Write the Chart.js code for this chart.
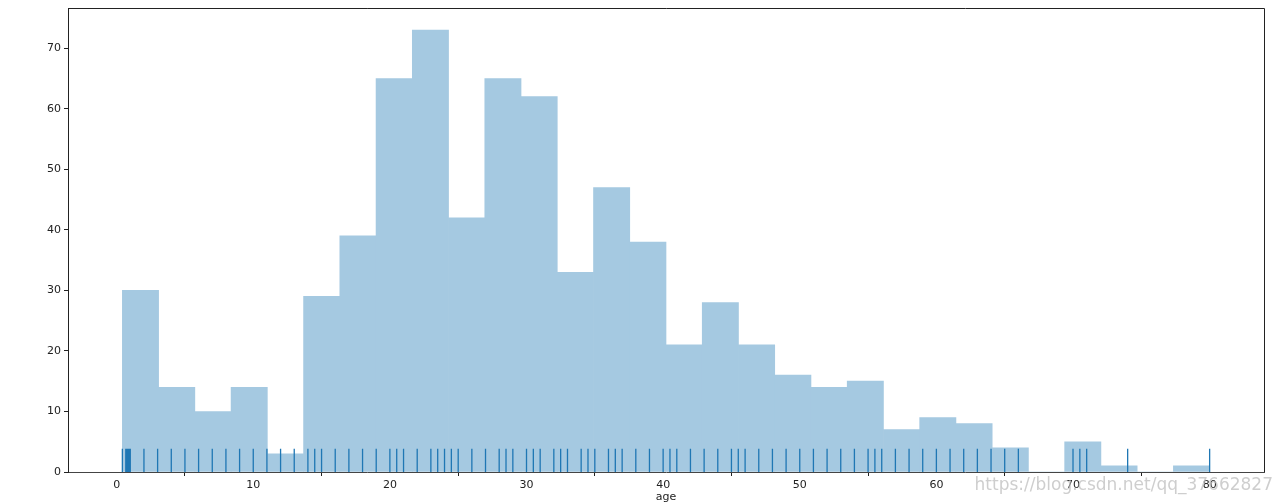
<!DOCTYPE html>
<html>
<head>
<meta charset="utf-8">
<style>
html,body{margin:0;padding:0;background:#fff;}
canvas{display:block;}
</style>
<script src="https://cdn.jsdelivr.net/npm/chart.js@4.4.1/dist/chart.umd.min.js"></script>
</head>
<body>
<canvas id="c" width="1281" height="504"></canvas>
<script>
// ---- data ----
const AGE_MIN = 0.42;
const AGE_MAX = 80;
const binCounts = [30, 14, 10, 14, 3, 29, 39, 65, 73, 42, 65, 62, 33, 47, 38,
                   21, 28, 21, 16, 14, 15, 7, 9, 8, 4, 0, 5, 1, 0, 1];
const rugAges = [0.42, 0.67, 0.75, 0.83, 0.92, 1, 2, 3, 4, 5, 6, 7, 8, 9, 10, 11, 12, 13, 14, 14.5,
                 15, 16, 17, 18, 19, 20, 20.5, 21, 22, 23, 23.5, 24, 24.5, 25, 26, 27, 28, 28.5, 29,
                 30, 30.5, 31, 32, 32.5, 33, 34, 34.5, 35, 36, 36.5, 37, 38, 39, 40, 40.5, 41, 42,
                 43, 44, 45, 45.5, 46, 47, 48, 49, 50, 51, 52, 53, 54, 55, 55.5, 56, 57, 58, 59, 60,
                 61, 62, 63, 64, 65, 66, 70, 70.5, 71, 74, 80];
const xTicks = [0, 10, 20, 30, 40, 50, 60, 70, 80];
const yTicks = [0, 10, 20, 30, 40, 50, 60, 70];
const xLabel = 'age';
const watermark = 'https://blog.csdn.net/qq_37662827';

// ---- derived ----
const nBins = binCounts.length;
const binW = (AGE_MAX - AGE_MIN) / nBins;
const histData = binCounts.map((c, i) => ({x: AGE_MIN + (i + 0.5) * binW, y: c}));
const yMax = Math.max(...binCounts) * 1.05;
const rugH = yMax * 0.05;
const rugData = [];
rugAges.forEach(v => { rugData.push({x: v, y: 0}, {x: v, y: rugH}, {x: v, y: null}); });
const xPad = (AGE_MAX - AGE_MIN) * 0.05;

const FONT = 'DejaVu Sans';
const frame = {
  id: 'frame',
  afterDatasetsDraw(chart) {
    const {ctx, chartArea: a} = chart;
    ctx.save();
    ctx.strokeStyle = '#222';
    ctx.lineWidth = 1;
    ctx.beginPath();
    ctx.moveTo(a.left, a.top + 0.5);
    ctx.lineTo(a.right + 0.5, a.top + 0.5);
    ctx.lineTo(a.right + 0.5, a.bottom);
    ctx.stroke();
    ctx.restore();
  },
  afterDraw(chart) {
    const {ctx} = chart;
    ctx.save();
    ctx.font = '17px ' + FONT;
    ctx.fillStyle = 'rgba(190,190,190,0.75)';
    ctx.textAlign = 'right';
    ctx.textBaseline = 'middle';
    ctx.fillText(watermark, 1273, 486);
    ctx.restore();
  }
};

new Chart(document.getElementById('c'), {
  type: 'bar',
  data: {
    datasets: [
      {
        type: 'line',
        data: rugData,
        borderColor: '#1f77b4',
        borderWidth: 1.3,
        pointRadius: 0,
        spanGaps: false,
        fill: false,
        order: 0
      },
      {
        type: 'bar',
        data: histData,
        backgroundColor: '#a5c9e1',
        borderWidth: 0,
        barPercentage: 1,
        categoryPercentage: 1,
        order: 1
      }
    ]
  },
  options: {
    responsive: false,
    animation: false,
    devicePixelRatio: 1,
    layout: {padding: {left: 0, top: 8, right: 17, bottom: 0}},
    plugins: {legend: {display: false}, tooltip: {enabled: false}},
    scales: {
      x: {
        type: 'linear',
        offset: false,
        min: AGE_MIN - xPad,
        max: AGE_MAX + xPad,
        afterBuildTicks(s) { s.ticks = xTicks.map(v => ({value: v})); },
        afterFit(s) { s.height = 32; },
        ticks: {
          includeBounds: false,
          maxRotation: 0,
          autoSkip: false,
          padding: 3,
          color: '#222',
          font: {family: FONT, size: 11},
          callback: v => String(v)
        },
        grid: {display: true, drawOnChartArea: false, drawTicks: true, tickLength: 4, tickColor: '#222'},
        border: {display: true, color: '#444', width: 1},
        title: {display: true, text: xLabel, color: '#222', font: {family: FONT, size: 11}, padding: {top: 0, bottom: 0}}
      },
      y: {
        type: 'linear',
        min: 0,
        max: yMax,
        afterBuildTicks(s) { s.ticks = yTicks.map(v => ({value: v})); },
        afterFit(s) { s.width = 68; s.paddingTop = 0; s.paddingBottom = 0; },
        ticks: {
          includeBounds: false,
          padding: 3,
          color: '#222',
          font: {family: FONT, size: 11},
          callback: v => String(v)
        },
        grid: {display: true, drawOnChartArea: false, drawTicks: true, tickLength: 4, tickColor: '#222'},
        border: {display: true, color: '#222', width: 1}
      }
    }
  },
  plugins: [frame]
});
</script>
</body>
</html>
